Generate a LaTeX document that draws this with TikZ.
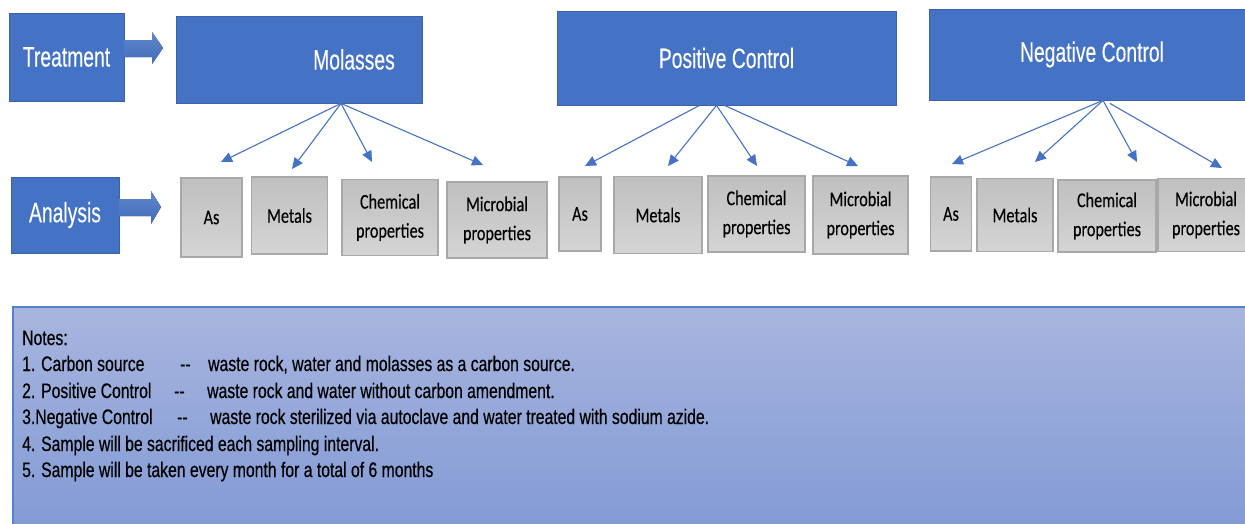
\documentclass[tikz,border=0pt]{standalone}
\usepackage{fontspec}
\setmainfont{Liberation Sans}
\newfontfamily\bfam[FakeStretch=0.69,FakeBold=0.2]{Liberation Sans}
\newfontfamily\gfam[FakeStretch=0.77,FakeBold=0.3]{Carlito}
\newfontfamily\nfam[FakeStretch=0.75,FakeBold=0.4]{Liberation Sans}
\usepackage{tikz}
\usetikzlibrary{calc}
\usetikzlibrary{positioning}
\usetikzlibrary {arrows.meta}
\usepackage{xcolor}
\definecolor{boxblue}{RGB}{68,114,196}
\definecolor{boxline}{RGB}{58,98,170}
\definecolor{grayfill}{RGB}{208,208,208}
\definecolor{grayline}{RGB}{168,168,168}
\definecolor{notetop}{RGB}{168,181,223}
\definecolor{notebot}{RGB}{128,153,212}

\begin{document}
\begin{tikzpicture}[x=1pt, y=-1pt,
		tb/.style = {rectangle,	draw=boxline,	fill=boxblue,	line width=0.8, inner sep=0},
		gb/.style = {rectangle,	draw=grayline,	top color=grayfill!92!black, bottom color=grayfill!90!white, line width=1.2, inner sep=0, align=center, font=\gfam\fontsize{21}{29}\selectfont},
		bt/.style = {text=white, font=\bfam\fontsize{28}{32}\selectfont},
		ba/.style = {top color=boxblue!85!white, bottom color=boxblue!95!black},
		nt/.style = {anchor=base west, inner sep=0, font=\nfam\fontsize{21}{22}\selectfont},
		r/.style = {-{Triangle[length=11pt,width=10pt]}, draw=boxblue, line width=1.1}
		]
		\useasboundingbox (0,0) rectangle (1245,523);
		
		%Notes panel
		\draw[draw=boxblue!90, line width=1.2, top color=notetop, bottom color=notebot]	(13,307)	rectangle (1260,540);
		
		%Nodes
		\node[tb, minimum width=115, minimum height=88, label={[bt]center:Treatment}]	(treat)	at	(66.5, 57)		{};
		\node[tb, minimum width=108, minimum height=76, label={[bt]center:Analysis}]	(anal)	at	(65, 215)		{};
		
		\node[tb, minimum width=246, minimum height=87, label={[bt, xshift=55]center:Molasses}]	(mol)	at	(299, 59.5)		{};
		\node[tb, minimum width=339, minimum height=94, label={[bt]center:Positive Control}]	(pos)	at	(726.5, 58)		{};
		\node[tb, minimum width=326, minimum height=91, label={[bt]center:Negative Control}]	(neg)	at	(1092, 54.5)	{};
		
		\node[gb, minimum width=61, minimum height=79]	(as1)	at	(211.5, 217.5)	{As};
		\node[gb, minimum width=76, minimum height=77]	(me1)	at	(289.5, 215.5)	{Metals};
		\node[gb, minimum width=96, minimum height=76]	(ch1)	at	(390, 217.5)	{Chemical\\properties};
		\node[gb, minimum width=100, minimum height=76]	(mi1)	at	(497, 220)		{Microbial\\properties};
		
		\node[gb, minimum width=42, minimum height=74]	(as2)	at	(580, 214)		{As};
		\node[gb, minimum width=88, minimum height=77]	(me2)	at	(658, 215)		{Metals};
		\node[gb, minimum width=97, minimum height=76]	(ch2)	at	(756.5, 214)	{Chemical\\properties};
		\node[gb, minimum width=95, minimum height=78]	(mi2)	at	(860.5, 215)	{Microbial\\properties};
		
		\node[gb, minimum width=41, minimum height=74]	(as3)	at	(951, 214)		{As};
		\node[gb, minimum width=76, minimum height=73]	(me3)	at	(1015, 215)		{Metals};
		\node[gb, minimum width=98, minimum height=72]	(ch3)	at	(1107, 216)		{Chemical\\properties};
		\node[gb, minimum width=96, minimum height=73]	(mi3)	at	(1206, 215)		{Microbial\\properties};
		
		% block arrows
		\fill[ba]	(treat.east |- 0,40)	-- (152,40) -- (152,32) -- (163,48) -- (152,64) -- (152,57) -- (treat.east |- 0,57) -- cycle;
		\fill[ba]	(anal.east |- 0,199)	-- (151,199) -- (151,191) -- (161,207) -- (151,224) -- (151,216) -- (anal.east |- 0,216) -- cycle;
		
		% arrow ends
		\coordinate	(mo)	at	($(mol.south)+(42,0)$);
		\coordinate	(pa)	at	($(pos.south)+(-27,0)$);
		\coordinate	(po)	at	($(pos.south)+(-10,0)$);
		\coordinate	(pm)	at	($(pos.south)+(-2,0)$);
		\coordinate	(no)	at	($(neg.south)+(11,0)$);
		\coordinate	(nm)	at	($(neg.south)+(18,3)$);
		
		\coordinate	(kas1)	at	(221, 162);
		\coordinate	(kme1)	at	(292, 169);
		\coordinate	(kch1)	at	(372, 162);
		\coordinate	(kmi1)	at	(483, 165);
		\coordinate	(kas2)	at	(585, 166);
		\coordinate	(kme2)	at	(668, 166);
		\coordinate	(kch2)	at	(757, 166);
		\coordinate	(kmi2)	at	(858, 166);
		\coordinate	(kas3)	at	(952, 164);
		\coordinate	(kme3)	at	(1035, 162);
		\coordinate	(kch3)	at	(1137, 162);
		\coordinate	(kmi3)	at	(1222, 168);
		
		%Lines
		\draw[r]	(mo)	to	(kas1);
		\draw[r]	(mo)	to	(kme1);
		\draw[r]	(mo)	to	(kch1);
		\draw[r]	(mo)	to	(kmi1);
		
		\draw[r]	(pa)	to	(kas2);
		\draw[r]	(po)	to	(kme2);
		\draw[r]	(po)	to	(kch2);
		\draw[r]	(pm)	to	(kmi2);
		
		\draw[r]	(no)	to	(kas3);
		\draw[r]	(no)	to	(kme3);
		\draw[r]	(no)	to	(kch3);
		\draw[r]	(nm)	to	(kmi3);
		
		%Notes
		\node[nt]	(n0)	at	(22, 345)	{Notes:};
		\node[nt]	(n1)	at	(22, 371)	{1. Carbon source};
		\node[nt]	(d1)	at	(180, 371)	{--};
		\node[nt]	(t1)	at	(208, 371)	{waste rock, water and molasses as a carbon source.};
		\node[nt]	(n2)	at	(22, 398)	{2. Positive Control};
		\node[nt]	(d2)	at	(174, 398)	{--};
		\node[nt]	(t2)	at	(207, 398)	{waste rock and water without carbon amendment.};
		\node[nt]	(n3)	at	(22, 424)	{3.Negative Control};
		\node[nt]	(d3)	at	(177, 424)	{--};
		\node[nt]	(t3)	at	(210, 424)	{waste rock sterilized via autoclave and water treated with sodium azide.};
		\node[nt]	(n4)	at	(22, 451)	{4. Sample will be sacrificed each sampling interval.};
		\node[nt]	(n5)	at	(22, 477)	{5. Sample will be taken every month for a total of 6 months};
	\end{tikzpicture}
\end{document}
